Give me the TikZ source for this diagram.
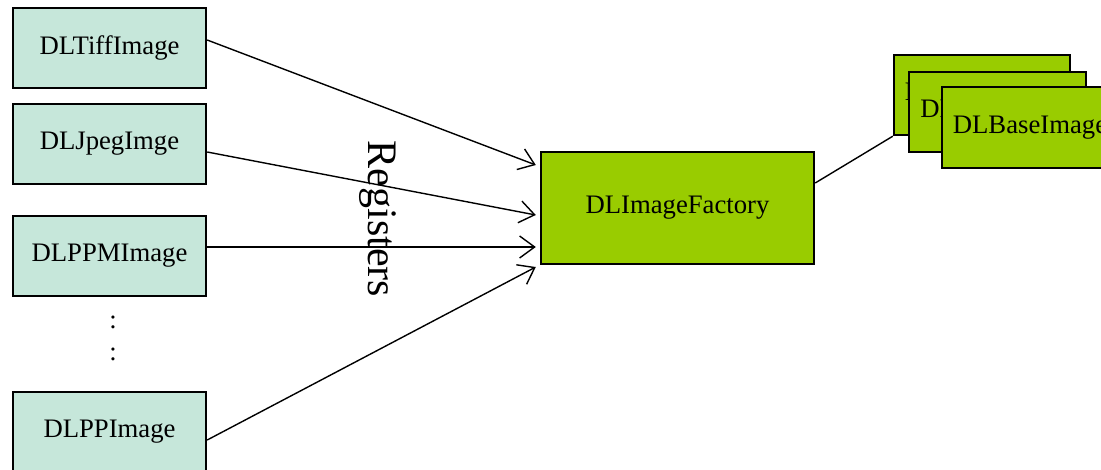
\documentclass[tikz,border=0pt]{standalone}
\usepackage{fontspec}
\setmainfont{Liberation Serif}
\usetikzlibrary{arrows.meta}
\definecolor{mint}{RGB}{198,231,218}
\definecolor{lime}{RGB}{153,204,0}
\tikzset{
  src/.style={draw=black, line width=2.4pt, fill=mint, minimum width=193pt, minimum height=80pt, inner sep=0pt, font=\fontsize{26.7}{30}\selectfont},
  fac/.style={draw=black, line width=2.4pt, fill=lime, inner sep=0pt, font=\fontsize{26.7}{30}\selectfont},
  conn/.style={line width=1.4pt, -{Straight Barb[length=15pt, width=22pt, line width=1.4pt]}},
}
\begin{document}
\begin{tikzpicture}[x=1pt, y=-1pt]
\clip (0,0) rectangle (1101,469);
\fill[white] (0,0) rectangle (1101,469);
\node[src] (b1) at (109.5,48) {DLTiffImage};
\node[src] (b2) at (109.5,144) {DLJpegImge};
\node[src] (b3) at (109.5,256) {DLPPMImage};
\node[src] (b4) at (109.5,432) {DLPPImage};
\node[font=\fontsize{26.7}{30}\selectfont, inner sep=0pt] (d1) at (113,322) {:};
\node[font=\fontsize{26.7}{30}\selectfont, inner sep=0pt] (d2) at (113,354) {:};
\node[fac, minimum width=273pt, minimum height=112pt] (f) at (677.5,208) {DLImageFactory};
\node[fac, minimum width=176pt, minimum height=80pt] (ba) at (982,95) {DLBaseImage};
\node[fac, minimum width=177pt, minimum height=80pt] (bb) at (997.5,112) {DLBaseImage};
\node[fac, minimum width=176pt, minimum height=81pt] (bc) at (1030,127.5) {DLBaseImage};
\node[rotate=-90, font=\fontsize{42}{46}\selectfont, inner sep=0pt] (reg) at (378,219) {Registers};
\draw[conn] ([yshift=8pt]b1.east) -- ([xshift=-4pt,yshift=43pt]f.west);
\draw[conn] ([yshift=-8pt]b2.east) -- ([xshift=-4pt,yshift=-7pt]f.west);
\draw[conn] ([yshift=9pt]b3.east) -- ([xshift=-4pt,yshift=-39pt]f.west);
\draw[conn] ([yshift=-8pt]b4.east) -- ([xshift=-4pt,yshift=-59pt]f.west);
\draw[line width=1.4pt] ([yshift=25pt]f.east) -- (ba.south west);
\end{tikzpicture}
\end{document}
